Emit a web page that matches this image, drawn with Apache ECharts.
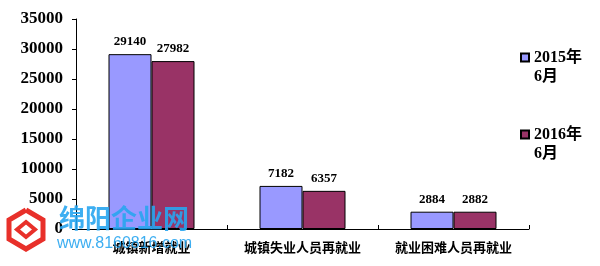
<!DOCTYPE html>
<html>
<head>
<meta charset="utf-8">
<script src="https://cdn.jsdelivr.net/npm/echarts@6/dist/echarts.min.js"></script>
<style>
  html, body { margin: 0; padding: 0; background: #fff; }
  #chart { width: 600px; height: 266px; }
</style>
</head>
<body>
<div id="chart"></div>
<script>
// Employment figures, June 2015 vs June 2016
const categories = ['城镇新增就业', '城镇失业人员再就业', '就业困难人员再就业'];
const series2015 = [29140, 7182, 2884];
const series2016 = [27982, 6357, 2882];
const seriesNames = ['2015年\n6月', '2016年\n6月'];
const yTicks = [0, 5000, 10000, 15000, 20000, 25000, 30000, 35000];

const serif = '"Liberation Serif", "Noto Sans CJK SC", serif';
const chart = echarts.init(document.getElementById('chart'));

const labelStyle = {
  show: true,
  position: 'top',
  distance: 6,
  color: '#000',
  fontFamily: serif,
  fontWeight: 'bold',
  fontSize: 13
};

chart.setOption({
  animation: false,
  backgroundColor: '#fff',
  grid: { left: 76, top: 19, right: 71, bottom: 37, containLabel: false },
  legend: {
    orient: 'vertical',
    left: 520,
    top: 48,
    padding: 0,
    itemGap: 39,
    itemWidth: 8,
    itemHeight: 27,
    // square swatch in the upper part of a tall box, so it sits beside the first text line
    icon: 'path://M0,0H8V8H0Z M0,27',
    textStyle: { fontFamily: serif, fontWeight: 'bold', fontSize: 16, color: '#000', lineHeight: 19 },
    data: seriesNames
  },
  xAxis: {
    type: 'category',
    data: categories,
    axisLine: { lineStyle: { color: '#000', width: 1 } },
    axisTick: { show: true, inside: true, length: 4, lineStyle: { color: '#000' } },
    axisLabel: { interval: 0, color: '#000', fontFamily: serif, fontWeight: 'bold', fontSize: 13, margin: 13 }
  },
  yAxis: {
    type: 'value',
    min: yTicks[0],
    max: yTicks[yTicks.length - 1],
    interval: 5000,
    splitLine: { show: false },
    axisLine: { show: true, lineStyle: { color: '#000', width: 1 } },
    axisTick: { show: true, length: 4, lineStyle: { color: '#000' } },
    axisLabel: {
      color: '#000', fontFamily: serif, fontWeight: 'bold', fontSize: 17, margin: 13,
      formatter: v => String(v)
    }
  },
  series: [
    {
      name: seriesNames[0],
      type: 'bar',
      data: series2015,
      barWidth: 43,
      barGap: '0%',
      itemStyle: { color: '#9999FF', borderColor: '#000', borderWidth: 1 },
      label: labelStyle
    },
    {
      name: seriesNames[1],
      type: 'bar',
      data: series2016,
      barWidth: 43,
      itemStyle: { color: '#993366', borderColor: '#000', borderWidth: 1 },
      label: labelStyle
    }
  ],
  graphic: [
    // site mark in the lower-left corner
    {
      type: 'polyline', z: 100,
      shape: { points: [[26, 210], [43, 220], [43, 239], [26, 249], [9, 239], [9, 220], [26, 210]] },
      style: { stroke: '#e8302a', lineWidth: 5, fill: null }
    },
    {
      type: 'polygon', z: 100,
      shape: { points: [[26, 222], [35, 229.5], [26, 237], [17, 229.5]] },
      style: { stroke: '#e8302a', lineWidth: 4, fill: null }
    },
    {
      type: 'text', z: 100, left: 59, top: 205,
      style: { text: '绵阳企业网', fill: 'rgba(40,165,240,0.9)', font: 'bold 26px "Noto Sans CJK SC", sans-serif' }
    },
    {
      type: 'text', z: 100, left: 57, top: 236,
      style: { text: 'www.8160816.com', fill: 'rgba(40,165,240,0.9)', font: '16px "Liberation Sans", sans-serif' }
    }
  ]
});
</script>
</body>
</html>
